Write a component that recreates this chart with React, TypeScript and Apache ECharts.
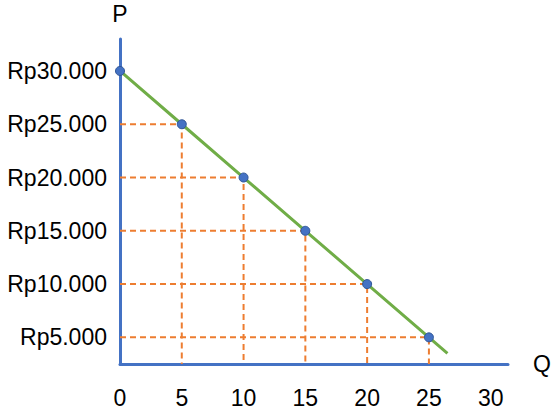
import React, { useEffect, useRef } from "react";
import * as echarts from "echarts";

// Demand schedule
const quantities: number[] = [0, 5, 10, 15, 20, 25];
const prices: number[] = [30000, 25000, 20000, 15000, 10000, 5000];
// where the demand line is drawn to past the last point
const lineEndQ = 26.5;
const lineEndP = 3500;

// axis ranges
const xMin = 0;
const xMax = 31.4;
const xStep = 5;
const yMin = 2500;
const yMax = 33000;
const yStep = 2500;
const yLabelStep = 5000;

const AXIS_BLUE = "#4472C4";
const ORANGE = "#ED7D31";
const GREEN = "#70AD47";
const FONT = "'Liberation Sans', Arial, sans-serif";
const FS = 23;

function rupiah(v: number): string {
  return "Rp" + v.toLocaleString("de-DE");
}

export default function App() {
  const ref = useRef<HTMLDivElement>(null);

  useEffect(() => {
    if (!ref.current) return;
    const chart = echarts.init(ref.current, null, { renderer: "svg" });

    const dashed = quantities
      .map((q, i) => ({ q, p: prices[i] }))
      .filter((d) => d.q > 0)
      .map((d) => ({
        type: "line" as const,
        data: [
          [xMin, d.p],
          [d.q, d.p],
          [d.q, yMin],
        ],
        symbol: "none",
        silent: true,
        lineStyle: { color: ORANGE, width: 2, type: [6, 4] },
        z: 1,
      }));

    const lineData = quantities.map((q, i) => [q, prices[i]]);
    lineData.push([lineEndQ, lineEndP]);

    chart.setOption({
      animation: false,
      grid: { left: 120, right: 50, top: 39, bottom: 53, containLabel: false },
      xAxis: {
        type: "value",
        min: xMin,
        max: xMax,
        interval: xStep,
        name: "Q",
        nameLocation: "end",
        nameGap: 25,
        nameTextStyle: { fontSize: FS, color: "#000", fontFamily: FONT, verticalAlign: "middle" },
        axisLine: { onZero: false, lineStyle: { color: AXIS_BLUE, width: 3 } },
        axisTick: { show: false },
        splitLine: { show: false },
        axisLabel: {
          fontSize: FS,
          color: "#000",
          fontFamily: FONT,
          margin: 22,
          showMaxLabel: false,
          formatter: (v: number) => (Math.abs(v % xStep) < 1e-9 ? String(v) : ""),
        },
      },
      yAxis: {
        type: "value",
        min: yMin,
        max: yMax,
        interval: yStep,
        name: "P",
        nameLocation: "end",
        nameGap: 14,
        nameTextStyle: { fontSize: FS, color: "#000", fontFamily: FONT, align: "center" },
        axisLine: { show: true, onZero: false, lineStyle: { color: AXIS_BLUE, width: 3 } },
        axisTick: { show: false },
        splitLine: { show: false },
        axisLabel: {
          fontSize: FS,
          color: "#000",
          fontFamily: FONT,
          margin: 13,
          showMaxLabel: false,
          showMinLabel: false,
          formatter: (v: number) =>
            v % yLabelStep === 0 && v >= 5000 && v <= 30000 ? rupiah(v) : "",
        },
      },
      series: [
        ...dashed,
        {
          type: "line",
          data: lineData,
          symbol: "none",
          silent: true,
          lineStyle: { color: GREEN, width: 3 },
          z: 2,
        },
        {
          type: "scatter",
          data: quantities.map((q, i) => [q, prices[i]]),
          symbolSize: 9,
          silent: true,
          itemStyle: { color: AXIS_BLUE, borderColor: "#2F5597", borderWidth: 1, opacity: 1 },
          z: 3,
        },
      ],
    });

    return () => chart.dispose();
  }, []);

  return (
    <div
      ref={ref}
      style={{ position: "fixed", left: 0, top: 0, width: 558, height: 417, background: "#fff" }}
    />
  );
}
